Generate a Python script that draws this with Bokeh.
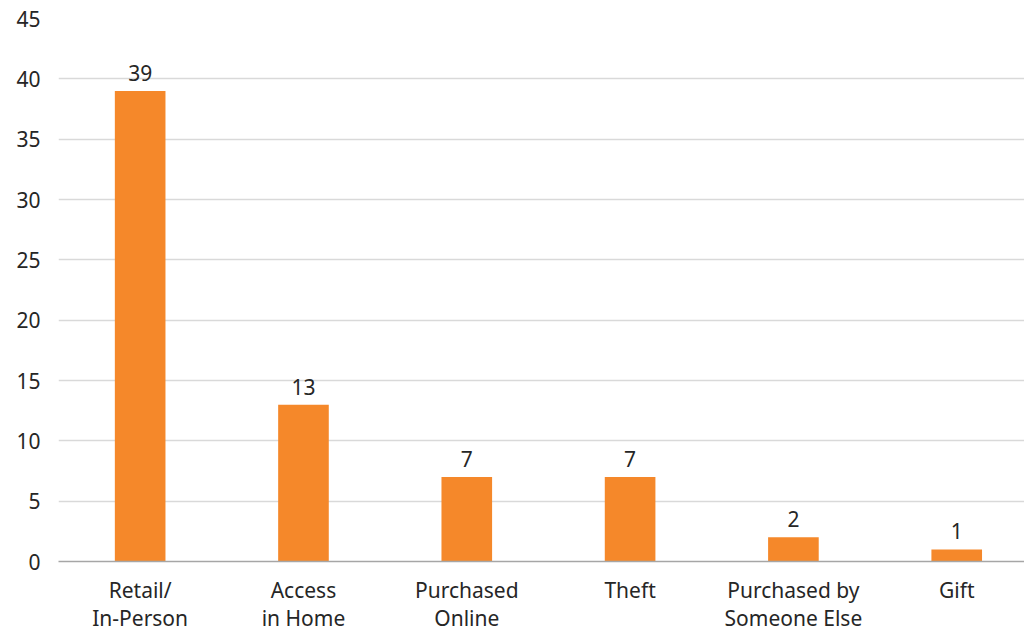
from bokeh.plotting import figure
from bokeh.models import ColumnDataSource, Range1d, FixedTicker, LabelSet
from bokeh.core.properties import value
from bokeh.embed import file_html
from bokeh.resources import INLINE

categories = ["Retail/\nIn-Person", "Access\nin Home", "Purchased\nOnline", "Theft",
              "Purchased by\nSomeone Else", "Gift"]
values = [39, 13, 7, 7, 2, 1]
y_ticks = [0, 5, 10, 15, 20, 25, 30, 35, 40, 45]

FONT = "Noto Sans"
TEXT = "#262626"
BAR = "#F5882A"

xs = list(range(len(categories)))
src = ColumnDataSource(dict(x=xs, top=values, label=[str(v) for v in values]))

p = figure(frame_width=966, frame_height=543, output_backend="svg", toolbar_location=None,
           x_range=Range1d(-0.5, 5.415), y_range=Range1d(0, 45))
p.min_border_left = 58
p.min_border_right = 0
p.min_border_top = 18
p.min_border_bottom = 0
p.outline_line_color = None
p.background_fill_color = "white"

p.vbar(x="x", top="top", bottom=0, width=0.31, source=src, color=BAR, line_color=None)

labels = LabelSet(x="x", y="top", text="label", source=src, text_align="center",
                  text_baseline="bottom", y_offset=10, text_font=value(FONT),
                  text_font_size=value("21px"), text_color=TEXT)
p.add_layout(labels)

p.xgrid.grid_line_color = None
p.ygrid.grid_line_color = "#d9d9d9"
p.ygrid.grid_line_width = 1.5
p.ygrid.ticker = FixedTicker(ticks=y_ticks)

p.yaxis.ticker = FixedTicker(ticks=y_ticks)
p.yaxis.axis_line_color = None
p.yaxis.major_tick_line_color = None
p.yaxis.minor_tick_line_color = None
p.yaxis.major_label_text_font = FONT
p.yaxis.major_label_text_font_size = "21px"
p.yaxis.major_label_text_color = TEXT
p.yaxis.major_label_standoff = 12

p.xaxis.ticker = FixedTicker(ticks=xs)
p.xaxis.major_label_overrides = {i: c for i, c in zip(xs, categories)}
p.xaxis.axis_line_color = "#a6a6a6"
p.xaxis.axis_line_width = 1.5
p.xaxis.major_tick_line_color = None
p.xaxis.minor_tick_line_color = None
p.xaxis.major_label_text_font = FONT
p.xaxis.major_label_text_font_size = "21px"
p.xaxis.major_label_text_color = TEXT
p.xaxis.major_label_standoff = 8
p.xaxis.major_label_text_line_height = 1.0

open("out.html", "w").write(file_html(p, INLINE))
